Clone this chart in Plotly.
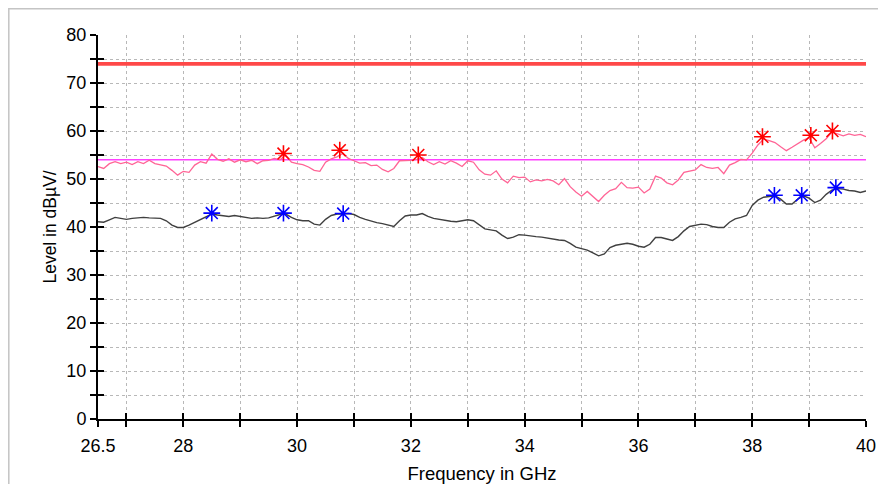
import plotly.graph_objects as go

freq = [round(26.5 + 0.1 * i, 1) for i in range(136)]

peak = [52.6, 52.2, 53.2, 53.6, 53.2, 53.5, 53.0, 53.6, 53.2, 53.9,
        53.2, 53.0, 52.7, 51.8, 50.8, 51.6, 51.4, 52.9, 53.6, 53.3,
        55.2, 54.1, 53.7, 54.2, 53.5, 54.0, 53.6, 53.9, 53.2, 53.8,
        53.9, 54.3, 54.0, 55.0, 53.5, 53.2, 53.0, 52.5, 51.8, 51.6,
        53.5, 54.2, 54.6, 55.3, 54.3, 53.8, 53.3, 53.4, 52.8, 52.9,
        52.0, 51.5, 52.2, 53.8, 53.8, 53.9, 54.1, 54.5, 53.6, 53.0,
        53.6, 53.1, 53.8, 53.3, 52.6, 53.8, 53.5, 51.9, 51.0, 50.8,
        51.7, 50.0, 49.2, 50.6, 50.3, 50.4, 49.4, 49.8, 49.6, 49.9,
        49.6, 48.8, 50.1, 48.4, 47.3, 46.4, 47.4, 46.3, 45.3, 46.6,
        47.6, 48.0, 49.3, 48.2, 48.1, 48.3, 47.1, 47.9, 50.6, 50.2,
        49.2, 48.8, 49.8, 51.4, 51.6, 51.9, 53.0, 52.4, 52.2, 52.4,
        51.1, 52.9, 53.4, 54.1, 54.0, 55.4, 57.1, 58.3, 58.0, 57.6,
        56.7, 55.9, 56.6, 57.3, 58.1, 58.6, 56.5, 57.4, 58.4, 59.8,
        59.4, 59.0, 59.4, 59.1, 59.3, 58.8]

average = [41.1, 41.0, 41.5, 42.0, 41.8, 41.6, 41.8, 41.9, 42.0, 41.9,
           41.9, 41.8, 41.3, 40.4, 39.9, 39.9, 40.4, 41.0, 41.6, 42.1,
           42.7, 42.5, 42.3, 42.2, 42.4, 42.2, 41.9, 41.8, 41.9, 41.8,
           41.9, 42.2, 42.6, 42.7, 42.0, 41.5, 41.3, 41.3, 40.6, 40.4,
           41.6, 42.4, 42.7, 42.7, 42.8, 42.6, 42.0, 41.6, 41.2, 40.9,
           40.7, 40.4, 40.1, 41.3, 42.3, 42.5, 42.5, 42.8, 42.2, 41.8,
           41.6, 41.3, 41.2, 41.1, 41.3, 41.5, 41.3, 40.5, 39.6, 39.4,
           39.2, 38.3, 37.6, 37.9, 38.4, 38.3, 38.1, 38.0, 37.9, 37.7,
           37.4, 37.3, 37.2, 36.6, 35.8, 35.5, 35.2, 34.6, 34.0, 34.4,
           35.7, 36.2, 36.4, 36.6, 36.4, 36.0, 35.8, 36.4, 37.8, 37.8,
           37.5, 37.2, 38.0, 39.2, 40.1, 40.4, 40.6, 40.5, 40.1, 39.9,
           39.9, 41.0, 41.7, 42.0, 42.4, 44.5, 45.6, 46.2, 46.3, 46.5,
           45.8, 44.8, 44.8, 45.8, 46.5, 46.0, 45.1, 45.6, 46.8, 47.7,
           48.0, 47.9, 47.6, 47.5, 47.2, 47.5]

peak_marker_f = [29.76, 30.75, 32.13, 38.18, 39.03, 39.41]
peak_marker_v = [55.3, 56.0, 55.0, 58.8, 59.1, 60.0]
avg_marker_f = [28.5, 29.76, 30.81, 38.39, 38.87, 39.47]
avg_marker_v = [42.9, 42.9, 42.8, 46.6, 46.6, 48.2]

limit_f = [26.5, 40.0]
limit_peak = [74, 74]
limit_avg = [54, 54]

x_ticks = [26.5] + list(range(27, 41))
x_text = ["26.5"] + [str(v) if v % 2 == 0 else "" for v in range(27, 41)]
y_ticks = list(range(0, 85, 5))
y_text = [str(v) if v % 10 == 0 else "" for v in y_ticks]

fig = go.Figure()
fig.add_trace(go.Scatter(x=limit_f, y=limit_peak, mode="lines",
                         line=dict(color="#ff4848", width=3.8)))
fig.add_trace(go.Scatter(x=limit_f, y=limit_avg, mode="lines",
                         line=dict(color="#ff40ff", width=1.5)))
fig.add_trace(go.Scatter(x=freq, y=peak, mode="lines",
                         line=dict(color="#ff6496", width=1.3)))
fig.add_trace(go.Scatter(x=freq, y=average, mode="lines",
                         line=dict(color="#404040", width=1.4)))
fig.add_trace(go.Scatter(x=peak_marker_f, y=peak_marker_v, mode="markers",
                         marker=dict(symbol="asterisk-open", size=14, color="#ff0000",
                                     line=dict(color="#ff0000", width=1.6))))
fig.add_trace(go.Scatter(x=avg_marker_f, y=avg_marker_v, mode="markers",
                         marker=dict(symbol="asterisk-open", size=14, color="#0000ff",
                                     line=dict(color="#0000ff", width=1.6))))
# helper trace for overlay axes (inner tick halves)
fig.add_trace(go.Scatter(x=[26.5], y=[0], xaxis="x2", yaxis="y2", mode="markers",
                         marker=dict(opacity=0), hoverinfo="skip"))

font = "Liberation Sans, Arial, sans-serif"
W, H = 870, 476
fig.update_layout(
    width=W, height=H,
    margin=dict(l=90, r=12, t=27, b=65),
    paper_bgcolor="white", plot_bgcolor="white",
    showlegend=False,
    font=dict(family=font, color="black", size=18),
    xaxis=dict(range=[26.5, 40], tickvals=x_ticks, ticktext=x_text,
               ticks="outside", ticklen=6, tickwidth=1.5, tickcolor="black",
               showline=True, linecolor="black", linewidth=2, automargin=False,
               showgrid=True, gridcolor="#b8b8b8", griddash="dot", gridwidth=1,
               zeroline=False, tickfont=dict(size=18), ticklabelstandoff=3,
               title=dict(text="Frequency in GHz", font=dict(size=18.5), standoff=14)),
    yaxis=dict(range=[0, 80], tickvals=y_ticks, ticktext=y_text,
               ticks="outside", ticklen=6, tickwidth=1.5, tickcolor="black",
               showline=True, linecolor="black", linewidth=2, automargin=False,
               showgrid=True, gridcolor="#b8b8b8", griddash="dot", gridwidth=1,
               zeroline=False, tickfont=dict(size=18),
               title=dict(text="Level in dBµV/", font=dict(size=17.5), standoff=5)),
    xaxis2=dict(range=[26.5, 40], overlaying="x", anchor="y", side="bottom",
                tickvals=x_ticks, ticks="inside", ticklen=6, tickwidth=1.5,
                tickcolor="black", showticklabels=False, showgrid=False,
                zeroline=False, showline=False, automargin=False),
    yaxis2=dict(range=[0, 80], overlaying="y", anchor="x", side="left",
                tickvals=y_ticks, ticks="inside", ticklen=6, tickwidth=1.5,
                tickcolor="black", showticklabels=False, showgrid=False,
                zeroline=False, showline=False, automargin=False),
    shapes=[dict(type="rect", xref="paper", yref="paper",
                 x0=(0.8 - 90) / 768, x1=1.1, y0=-0.3, y1=(411 - 0.8) / 384,
                 line=dict(color="#c4c4c4", width=1.5), layer="below")],
)

fig.write_html("out.html")
